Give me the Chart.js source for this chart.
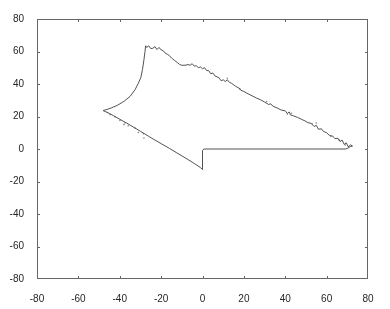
<!DOCTYPE html>
<html>
<head>
<meta charset="utf-8">
<script src="https://cdn.jsdelivr.net/npm/chart.js@4.4.1/dist/chart.umd.min.js"></script>
<style>
    html, body { margin: 0; padding: 0; background: #fff; }
    #wrap { width: 390px; height: 309px; }
</style>
</head>
<body>
<div id="wrap"><canvas id="grafico"></canvas></div>
<script>
// trayectoria principal (lazo cerrado)
const loopX = [-48, -46, -43, -40, -36.6, -33, -30, -26, -23.8, -20, -16, -12.4, -8, -4, -1, 0,
    0, 0.6, 69, 70, 71.5, 72.5, 71.5, 70.5, 69.5, 68.5, 67.5, 66.5, 65.5, 64, 63, 61.5, 60, 58.5, 57.5, 56, 55, 54, 52.5, 51, 50,
    48, 46, 44, 42.5, 42, 41, 40, 38, 36, 34, 33, 32, 30, 28, 26, 24, 22, 20, 18.5, 18, 16, 14, 13, 12, 11, 10, 9, 8,
    6, 5, 4, 3, 2, 1, 0, -1, -2, -3, -4, -5, -6, -7, -8,
    -10, -11, -12, -13.5, -15, -16, -17, -18, -19, -20, -21, -22, -23, -24, -25, -26, -27, -27.5,
    -27.8, -28.3, -29, -29.8, -31, -32.6, -35, -38, -41, -44, -46, -48];
const loopY = [23.6, 22.5, 20.5, 18.3, 15.9, 13.2, 10.9, 7.8, 6.1, 3.3, 0.4, -2.4, -5.7, -8.9, -11.4, -12.7,
    -1, 0, 0, 0.3, 1.5, 1.8, 2.6, 1.2, 3.8, 2.8, 5.5, 4.6, 6.6, 6.4, 7.9, 8.2, 10, 10.8, 12.4, 12.2, 14.6, 13.8, 15.8, 16.2, 17,
    18.2, 19.4, 20.4, 21, 22.8, 21.8, 23.5, 24, 25.3, 26.4, 27.8, 27.4, 28.9, 30.3, 31.4, 32.7, 34, 35.4, 36.2, 37.2, 38.6, 40.5, 41, 42.6, 41.5, 42.6, 42, 43.8,
    45, 46.8, 46.3, 48.2, 48.3, 50, 49.4, 50.5, 50, 51.3, 51, 52.5, 51.5, 52, 51.6,
    51.5, 52, 53, 54.5, 56, 57.5, 58.3, 59, 60.5, 61, 62.5, 61.2, 63, 62, 61.8, 63.5, 62.5, 63.5,
    60, 55, 49, 44, 40.5, 36.5, 32.4, 29.3, 27, 25.3, 24.4, 23.7];

// puntos sueltos
const dotsX = [-45.9, -44.7, -42.3, -39.9, -38, -37.5, -35.9, -32.6, -31, -28.6, -28.3,
    12, 18, 31, 41, 43, 53, 55, 62, 66, 69];
const dotsY = [22.5, 21.1, 19.8, 17.6, 15, 16, 14.3, 12.9, 10.2, 9.4, 6.8,
    43.5, 37, 29.2, 21.5, 22, 15.5, 16, 8, 5.5, 2.5];

const ejeMin = -80;
const ejeMax = 80;
const paso = 20;

const toPoints = (xs, ys) => xs.map((x, i) => ({ x: x, y: ys[i] }));

// marco y marcas hacia adentro (estilo MATLAB)
const marco = {
    id: 'marco',
    afterDraw(chart) {
        const { ctx, chartArea: a, scales } = chart;
        ctx.save();
        ctx.strokeStyle = '#666';
        ctx.lineWidth = 1;
        ctx.strokeRect(a.left + 0.5, a.top + 0.5, a.right - a.left - 1, a.bottom - a.top - 1);
        ctx.beginPath();
        for (let v = ejeMin + paso; v < ejeMax; v += paso) {
            const px = Math.round(scales.x.getPixelForValue(v)) + 0.5;
            ctx.moveTo(px, a.bottom); ctx.lineTo(px, a.bottom - 3);
            ctx.moveTo(px, a.top); ctx.lineTo(px, a.top + 3);
            const py = Math.round(scales.y.getPixelForValue(v)) + 0.5;
            ctx.moveTo(a.left, py); ctx.lineTo(a.left + 3, py);
            ctx.moveTo(a.right, py); ctx.lineTo(a.right - 3, py);
        }
        ctx.stroke();
        ctx.restore();
    }
};

const fuente = { family: 'Arial, "Liberation Sans", sans-serif', size: 10 };

new Chart(document.querySelector('#grafico'), {
    type: 'scatter',
    data: {
        datasets: [
            {
                data: toPoints(loopX, loopY),
                showLine: true,
                borderColor: '#404040',
                borderWidth: 0.9,
                pointRadius: 0,
                tension: 0
            },
            {
                data: toPoints(dotsX, dotsY),
                pointRadius: 0.8,
                backgroundColor: '#888',
                borderWidth: 0
            }
        ]
    },
    options: {
        responsive: true,
        maintainAspectRatio: false,
        animation: false,
        layout: { padding: { top: 19, right: 22, left: 0, bottom: 0 } },
        plugins: { legend: { display: false }, tooltip: { enabled: false } },
        scales: {
            x: {
                min: ejeMin, max: ejeMax,
                grid: { display: false },
                border: { display: false },
                ticks: { stepSize: paso, color: '#262626', font: fuente, padding: 6, maxRotation: 0 },
                afterFit(s) { s.height = 30; }
            },
            y: {
                min: ejeMin, max: ejeMax,
                grid: { display: false },
                border: { display: false },
                ticks: { stepSize: paso, color: '#262626', font: fuente, padding: 5 },
                afterFit(s) { s.width = 37; }
            }
        }
    },
    plugins: [marco]
});
</script>
</body>
</html>
